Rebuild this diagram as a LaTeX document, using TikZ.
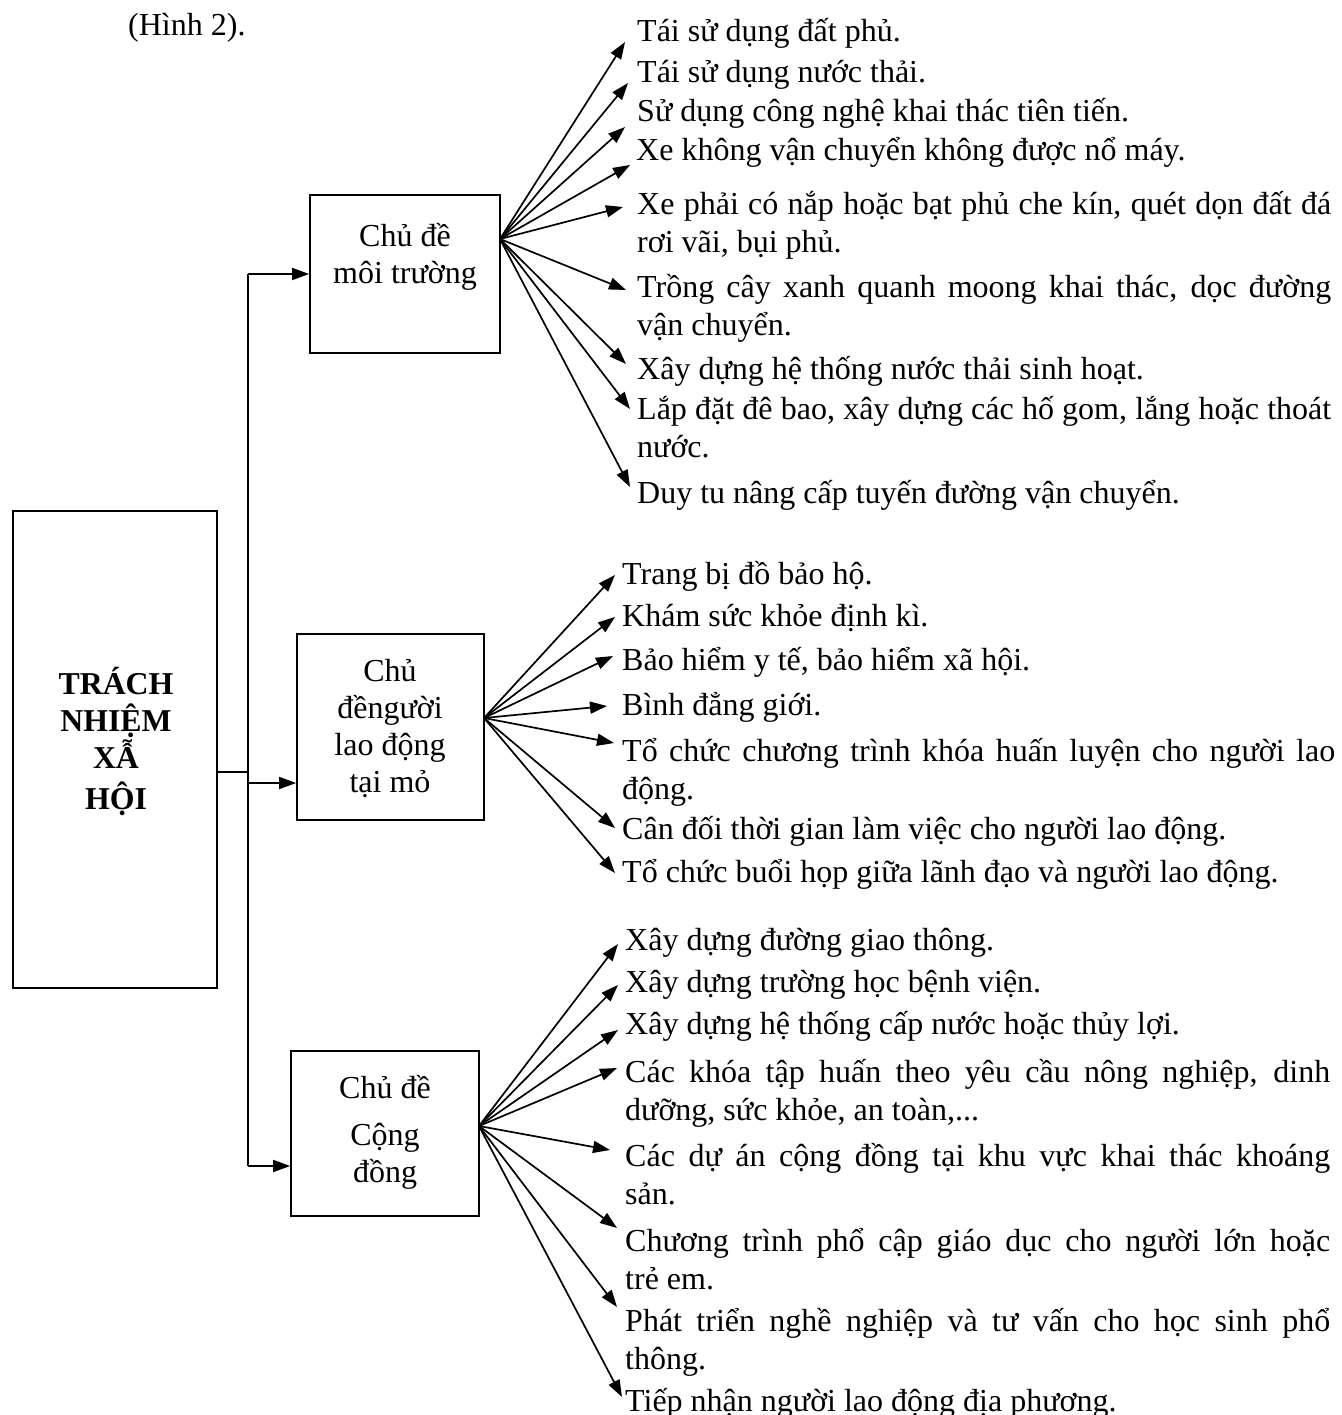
\documentclass[tikz,border=0pt]{standalone}
\usepackage{fontspec}
\setmainfont{Liberation Serif}
\usetikzlibrary{arrows.meta}
\tikzset{
  arr/.style={-{Triangle[length=17pt,width=12pt]}, line width=1.7pt},
  ln/.style={line width=1.7pt},
  box/.style={draw, line width=1.7pt, inner sep=0pt},
  item/.style={anchor=base west, inner sep=0pt, align=left},
  boxtext/.style={inner sep=0pt, align=center, font=\fontsize{32}{37}\selectfont},
}
\newcommand{\jl}[1]{\makebox[694pt][s]{#1}}
\begin{document}
\begin{tikzpicture}[x=1pt,y=-1pt,font=\fontsize{32}{38}\selectfont]
\useasboundingbox (0,0) rectangle (1341,1415);
\fill[white] (0,0) rectangle (1341,1415);

\node[item] (cap) at (128,36) {(Hình 2).};

% main box
\node[draw, line width=1.2pt, minimum width=204pt, minimum height=477pt, inner sep=0pt] (main) at (115,749.5) {};
\node[boxtext, font=\fontsize{31.8}{37}\selectfont\bfseries] (maintext) at (116,741) {TRÁCH\\NHIỆM\\XẪ\\[4pt] HỘI};

% topic boxes
\node[box, minimum width=190pt, minimum height=158pt] (b1) at (405,274) {};
\node[boxtext] (b1t) at (405,257) {Chủ đề\\môi trường};
\node[box, minimum width=187pt, minimum height=186pt] (b2) at (390.5,727) {};
\node[boxtext] (b2t) at (390,729) {Chủ\\đềngười\\lao động\\tại mỏ};
\node[box, minimum width=188pt, minimum height=165pt] (b3) at (385,1133.5) {};
\node[boxtext] (b3t) at (385,1132) {Chủ đề\\[10pt]Cộng\\đồng};

% trunk
\coordinate (jm) at (248,772);
\coordinate (jt) at (248,274);
\coordinate (jb) at (248,1166);
\coordinate (j2) at (248,783);
\draw[ln] (main.east |- jm) -- (jm);
\draw[ln] (jt) -- (jb);
\draw[arr] (jt) -- (b1.west |- jt);
\draw[arr] (j2) -- (b2.west |- j2);
\draw[arr] (jb) -- (b3.west |- jb);

% fan origins
\coordinate (o1) at (500,239);
\coordinate (o2) at (484,718);
\coordinate (o3) at (479,1126);

% top group (two-line items anchored at the baseline of their second line)
\node[item] (t1) at (637,42) {Tái sử dụng đất phủ.};
\node[item] (t2) at (637,83) {Tái sử dụng nước thải.};
\node[item] (t3) at (637,122) {Sử dụng công nghệ khai thác tiên tiến.};
\node[item] (t4) at (636,161) {Xe không vận chuyển không được nổ máy.};
\node[item] (t5) at (637,252) {\jl{Xe phải có nắp hoặc bạt phủ che kín, quét dọn đất đá}\\rơi vãi, bụi phủ.};
\node[item] (t6) at (637,335) {\jl{Trồng cây xanh quanh moong khai thác, dọc đường}\\vận chuyển.};
\node[item] (t7) at (637,379) {Xây dựng hệ thống nước thải sinh hoạt.};
\node[item] (t8) at (637,457) {\jl{Lắp đặt đê bao, xây dựng các hố gom, lắng hoặc thoát}\\nước.};
\node[item] (t9) at (637,503) {Duy tu nâng cấp tuyến đường vận chuyển.};

\coordinate (a1) at (625,42);
\coordinate (a2) at (628,83);
\coordinate (a3) at (625,127);
\coordinate (a4) at (630,165);
\coordinate (a5) at (623,207);
\coordinate (a6) at (626,290);
\coordinate (a7) at (626,364);
\coordinate (a8) at (630,409);
\coordinate (a9) at (630,487);
\foreach \i in {1,...,9} \draw[arr] (o1) -- (a\i);

% middle group
\node[item] (m1) at (622,584) {Trang bị đồ bảo hộ.};
\node[item] (m2) at (622,626) {Khám sức khỏe định kì.};
\node[item] (m3) at (622,670) {Bảo hiểm y tế, bảo hiểm xã hội.};
\node[item] (m4) at (622,715) {Bình đẳng giới.};
\node[item] (m5) at (622,799) {\makebox[713pt][s]{Tổ chức chương trình khóa huấn luyện cho người lao}\\động.};
\node[item] (m6) at (622,839) {Cân đối thời gian làm việc cho người lao động.};
\node[item] (m7) at (622,882) {Tổ chức buổi họp giữa lãnh đạo và người lao động.};

\coordinate (c1) at (615,575);
\coordinate (c2) at (615,617);
\coordinate (c3) at (613,656);
\coordinate (c4) at (607,706);
\coordinate (c5) at (614,743);
\coordinate (c6) at (615,828);
\coordinate (c7) at (615,873);
\foreach \i in {1,...,7} \draw[arr] (o2) -- (c\i);

% bottom group
\node[item] (n1) at (625,950) {Xây dựng đường giao thông.};
\node[item] (n2) at (625,992) {Xây dựng trường học bệnh viện.};
\node[item] (n3) at (625,1034) {Xây dựng hệ thống cấp nước hoặc thủy lợi.};
\node[item] (n4) at (625,1120) {\makebox[705pt][s]{Các khóa tập huấn theo yêu cầu nông nghiệp, dinh}\\dưỡng, sức khỏe, an toàn,...};
\node[item] (n5) at (625,1204) {\makebox[705pt][s]{Các dự án cộng đồng tại khu vực khai thác khoáng}\\sản.};
\node[item] (n6) at (625,1289) {\makebox[705pt][s]{Chương trình phổ cập giáo dục cho người lớn hoặc}\\trẻ em.};
\node[item] (n7) at (625,1369) {\makebox[705pt][s]{Phát triển nghề nghiệp và tư vấn cho học sinh phổ}\\thông.};
\node[item] (n8) at (625,1411) {Tiếp nhận người lao động địa phương.};

\coordinate (d1) at (618,944);
\coordinate (d2) at (618,985);
\coordinate (d3) at (618,1030);
\coordinate (d4) at (617,1068);
\coordinate (d5) at (610,1150);
\coordinate (d6) at (617,1228);
\coordinate (d7) at (617,1307);
\coordinate (d8) at (622,1397);
\foreach \i in {1,...,8} \draw[arr] (o3) -- (d\i);
\end{tikzpicture}
\end{document}
